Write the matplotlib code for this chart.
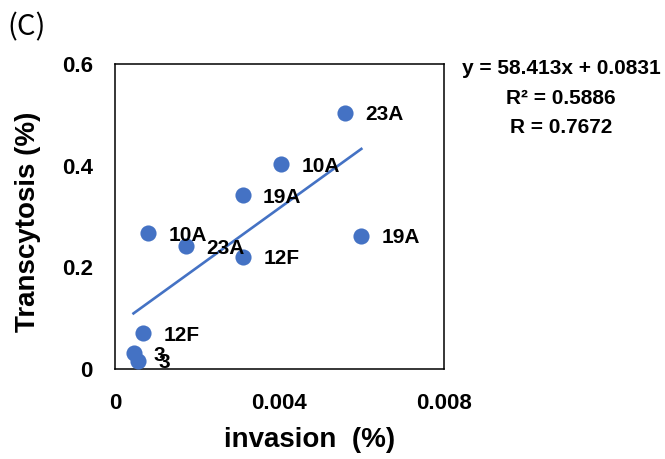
import numpy as np
import matplotlib
matplotlib.use("Agg")
import matplotlib.pyplot as plt

# values
serotypes = ["23A", "10A", "19A", "19A", "10A", "23A", "12F", "12F", "3", "3"]
invasion = [0.0056, 0.00404, 0.00311, 0.00599, 0.00081, 0.00173, 0.00312, 0.00069, 0.00045, 0.00057]
transcytosis = [0.504, 0.403, 0.342, 0.262, 0.267, 0.241, 0.221, 0.070, 0.031, 0.016]

# linear trendline as reported on the chart
slope = 58.413
intercept = 0.0831
r_squared = 0.5886
r_value = 0.7672

x_ticks = [0, 0.004, 0.008]
x_tick_labels = ["0", "0.004", "0.008"]
y_ticks = [0, 0.2, 0.4, 0.6]
y_tick_labels = ["0", "0.2", "0.4", "0.6"]

blue = "#4472C4"
plt.rcParams["font.family"] = ["Liberation Sans", "DejaVu Sans"]

fig = plt.figure(figsize=(6.65, 4.59), dpi=100)
ax = fig.add_axes([115 / 665, 1 - 369 / 459, 329 / 665, 305 / 459])

ax.scatter(invasion, transcytosis, s=135, color=blue, zorder=3, linewidths=0)

# trendline over the data range
xs = np.array([min(invasion), max(invasion)])
ax.plot(xs, slope * xs + intercept, color=blue, linewidth=1.9, zorder=2)

for name, x, y in zip(serotypes, invasion, transcytosis):
    ax.annotate(name, (x, y), xytext=(20, -2), textcoords="offset pixels",
                ha="left", va="center", fontsize=15, fontweight="bold", zorder=4)

ax.set_xlim(0, 0.008)
ax.set_ylim(0, 0.6)
ax.set_xticks(x_ticks)
ax.set_xticklabels(x_tick_labels)
ax.set_yticks(y_ticks)
ax.set_yticklabels(y_tick_labels)
ax.tick_params(axis="both", length=0, labelsize=16)
ax.tick_params(axis="x", pad=17)
ax.tick_params(axis="y", pad=16)
for lab in ax.get_xticklabels() + ax.get_yticklabels():
    lab.set_fontweight("bold")

for sp in ax.spines.values():
    sp.set_linewidth(1.1)
    sp.set_color("black")

ax.set_xlabel("invasion  (%)", fontsize=20, fontweight="bold", va="center")
ax.xaxis.set_label_coords((310 - 115) / 329, (369 - 440) / 305)
ax.set_ylabel("Transcytosis (%)", fontsize=20, fontweight="bold", va="center")
ax.yaxis.set_label_coords((28 - 115) / 329, (369 - 222) / 305)

eq_text = f"y = {slope}x + {intercept}\nR\u00b2 = {r_squared}\nR = {r_value}"
fig.text(561 / 665, 1 - 98 / 459, eq_text, ha="center", va="center",
         fontsize=15, fontweight="bold", linespacing=1.7)

fig.text(7 / 665, 1 - 27 / 459, "(C)", ha="left", va="center", fontsize=21,
         family=["Noto Sans CJK JP", "DejaVu Sans"])

fig.savefig("out.png", dpi=100)
